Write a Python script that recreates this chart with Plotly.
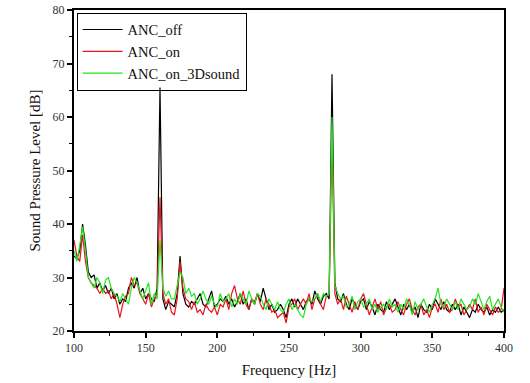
import plotly.graph_objects as go

freq = list(range(100, 401, 2))

anc_off = [34, 33.5, 35, 40, 36, 31, 30, 30.5, 28, 29, 27.5, 28.5, 27, 28, 26, 27, 25, 26, 25.5, 28,
           29, 28, 30, 27, 28, 26, 27, 26, 25.5, 28, 65.5, 26, 24, 25.5, 25, 24.5, 27, 34, 27, 25,
           24.5, 25.5, 25, 26, 27, 25, 24.5, 26, 27.5, 24.5, 25, 26, 25.5, 26.5, 25, 26, 24.5, 25.5, 27, 25,
           26, 24, 26, 25, 27, 25.5, 28, 26, 24, 25, 23.5, 24, 25, 24, 22.5, 25, 26, 24.5, 26, 25,
           24, 25.5, 26, 25, 27.5, 26, 25, 26.5, 27, 26, 68, 29, 26, 25.5, 27, 25, 24, 26, 25, 24,
           25.5, 26, 24, 25.5, 24.5, 23, 25, 24, 23.5, 25.5, 24, 25, 26, 24.5, 23, 25, 24, 25, 23.5, 24.5,
           22.5, 25, 24, 23.5, 25, 24, 26, 25, 24, 25.5, 24, 23.5, 25, 24, 25, 23, 24.5, 23.5, 22.5, 24,
           23.5, 25, 24, 23.5, 24.5, 23, 24, 23.5, 24.5, 23.5, 24]

anc_on = [37, 34, 33, 38, 33, 30, 29, 28.5, 28, 27, 28, 27, 27.5, 26, 27, 25, 22.5, 25, 26.5, 27,
          30, 28.5, 29, 27, 26, 25, 27, 24.5, 26, 27, 45, 27, 25, 26, 23.5, 23, 26, 33, 28, 26,
          25.5, 24, 25.5, 23.5, 24, 23, 25, 24, 23.5, 24.5, 23, 25, 24.5, 26, 24, 27, 28.5, 26, 25, 27.5,
          25, 24, 26, 25.5, 27, 25, 24, 26, 25, 23.5, 24, 22.5, 23, 23.5, 21.5, 24.5, 25, 26, 24, 25,
          26, 25, 27, 24, 26, 27, 25, 24, 26.5, 27, 56, 27, 25, 26, 24, 26.5, 25, 23.5, 25.5, 24,
          26, 27, 25, 23, 24.5, 26, 24, 25.5, 23, 24.5, 25, 23.5, 24, 25.5, 24, 23, 25, 26, 24, 23,
          24.5, 25, 23, 24, 22.5, 24.5, 25, 23.5, 26, 24, 25, 23.5, 24, 26, 24.5, 25, 23, 24, 25, 24,
          26, 23.5, 24.5, 23, 25, 24, 23, 24.5, 23.5, 24, 28]

anc_on_3d = [35, 33, 36, 39.5, 35, 30, 29, 28, 30, 29, 27, 29.5, 30, 28, 27, 26.5, 25.5, 27, 26, 25,
             28, 30, 29, 27.5, 26, 27.5, 29, 25, 27, 26, 37, 28, 26.5, 27.5, 26, 26, 28.5, 31, 30, 27,
             28, 26.5, 27, 25, 26, 27.5, 26, 25, 26.5, 25, 24.5, 27, 25.5, 26, 27, 24.5, 26, 25, 27, 26,
             25, 27.5, 26, 25, 27, 26.5, 25, 24, 26, 25, 24, 25.5, 24, 23.5, 25, 26, 24, 25, 24, 23,
             22.5, 25, 26, 25.5, 26, 27, 25.5, 27, 26.5, 27, 60, 28.5, 27, 26, 26.5, 24.5, 25, 26.5, 24, 25.5,
             26, 24.5, 25, 26, 24, 25, 23.5, 24.5, 25, 24, 26, 24.5, 25, 23.5, 25, 24, 26, 25, 23, 25.5,
             24, 25, 26, 24.5, 23.5, 25, 26, 28, 25, 24.5, 26, 25, 24, 25.5, 24, 26, 25, 24, 24.5, 26,
             25, 27, 25.5, 24, 25.5, 26.5, 24, 25, 26, 24.5, 23.5]

series = [("ANC_off", anc_off, "#000000"),
          ("ANC_on", anc_on, "#e8141e"),
          ("ANC_on_3Dsound", anc_on_3d, "#22e61e")]

fig = go.Figure()
for name, vals, col in series:
    fig.add_trace(go.Scatter(x=freq, y=vals, mode="lines", name=name,
                             line=dict(color=col, width=1.2)))

font = "Times New Roman"
fig.update_layout(
    width=530, height=383,
    margin=dict(l=74, r=26, t=10, b=52),
    paper_bgcolor="white", plot_bgcolor="white",
    font=dict(family=font, size=12, color="#333"),
    showlegend=True,
    legend=dict(x=0.006, y=0.992, xanchor="left", yanchor="top",
                bgcolor="rgba(255,255,255,0)", bordercolor="black", borderwidth=1,
                font=dict(family=font, size=14.5, color="#111"),
                itemwidth=40, tracegroupgap=0),
)
fig.update_xaxes(range=[100, 400], dtick=50, tick0=100, automargin=False,
                 showline=True, linecolor="black", linewidth=2, mirror=True,
                 ticks="outside", ticklen=5, tickwidth=1.5, tickcolor="black",
                 minor=dict(dtick=25, ticks="outside", ticklen=3, tickcolor="black", tickwidth=1.2),
                 showgrid=False, zeroline=False,
                 title=dict(text="Frequency [Hz]", font=dict(family=font, size=15, color="#111"), standoff=10),
                 tickfont=dict(family=font, size=12, color="#333"))
fig.update_yaxes(range=[20, 80], dtick=10, tick0=20, automargin=False,
                 showline=True, linecolor="black", linewidth=2, mirror=True,
                 ticks="outside", ticklen=5, tickwidth=1.5, tickcolor="black",
                 minor=dict(dtick=5, ticks="outside", ticklen=3, tickcolor="black", tickwidth=1.2),
                 showgrid=False, zeroline=False,
                 title=dict(text="Sound Pressure Level [dB]", font=dict(family=font, size=15, color="#111"), standoff=8),
                 tickfont=dict(family=font, size=12, color="#333"))

fig.write_html("out.html", config={"displayModeBar": False},
               post_script="document.body.style.margin='0';")
